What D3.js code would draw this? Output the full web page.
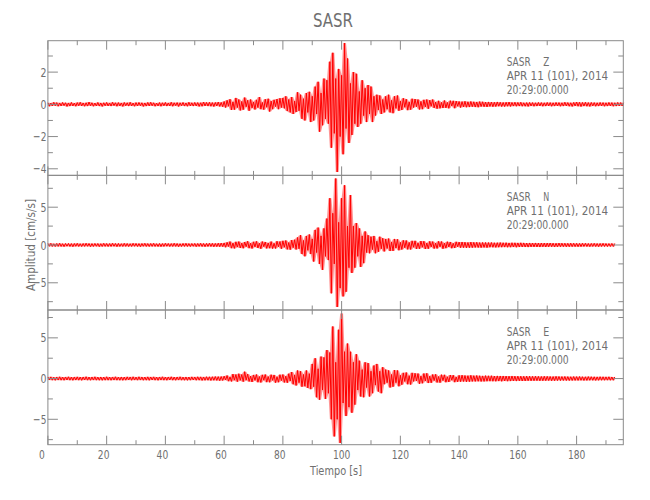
<!DOCTYPE html>
<html><head><meta charset="utf-8">
<script src="https://cdn.jsdelivr.net/npm/d3@7"></script>
<style>
body{margin:0;background:#fff}
text{font-family:"Liberation Sans Narrow","DejaVu Sans Condensed","Arial Narrow",sans-serif;fill:#707070}
</style>
</head><body>
<svg id="chart" width="650" height="500"></svg>
<script>
// ---------- data ----------
const title = "SASR";
const station = "SASR";
const components = ["Z", "N", "E"];
const dateLabel = "APR 11 (101), 2014";
const timeLabel = "20:29:00.000";
const xLabel = "Tiempo [s]";
const yLabel = "Amplitud [cm/s/s]";
const sampleStep = 0.5; // seconds between samples (alternating peaks)
const timeDomain = [0, 195.9];
const xMajorTicks = [0, 20, 40, 60, 80, 100, 120, 140, 160, 180];
const xMinorTicks = [10, 30, 50, 70, 90, 110, 130, 150, 170, 190];
const yDomains = [[-4.41, 3.95], [-8.6, 9.22], [-8.12, 8.42]];
const yMajorTicks = [[-4, -2, 0, 2], [-5, 0, 5], [-5, 0, 5]];
const yMinorTicks = [[-3, -1, 1, 3], [-7.5, -2.5, 2.5, 7.5], [-7.5, -2.5, 2.5, 7.5]];

const traceZ = [
0.1,-0.12,0.08,-0.1,0.13,-0.09,0.11,-0.12,0.09,-0.1,
0.12,-0.08,0.1,-0.13,0.09,-0.11,0.12,-0.1,0.08,-0.12,
0.11,-0.09,0.13,-0.1,0.09,-0.12,0.1,-0.11,0.14,-0.09,
0.1,-0.12,0.08,-0.1,0.12,-0.11,0.09,-0.13,0.1,-0.09,
0.12,-0.1,0.09,-0.11,0.13,-0.08,0.1,-0.12,0.11,-0.1,
0.09,-0.13,0.12,-0.09,0.1,-0.11,0.13,-0.1,0.08,-0.12,
0.11,-0.1,0.12,-0.09,0.1,-0.13,0.09,-0.11,0.12,-0.1,
0.13,-0.09,0.1,-0.12,0.08,-0.1,0.11,-0.12,0.1,-0.09,
0.12,-0.11,0.09,-0.1,0.13,-0.12,0.1,-0.08,0.11,-0.13,
0.1,-0.09,0.12,-0.11,0.09,-0.12,0.13,-0.1,0.1,-0.11,
0.12,-0.1,0.11,-0.13,0.1,-0.12,0.14,-0.1,0.12,-0.11,
0.13,-0.12,0.11,-0.14,0.12,-0.1,0.14,-0.13,0.12,-0.15,
0.18,-0.2,0.25,-0.12,0.32,-0.35,0.15,-0.33,0.4,-0.2,
0.3,-0.38,0.18,-0.33,0.42,-0.15,0.25,-0.4,0.3,-0.22,
0.15,-0.32,0.28,-0.2,0.45,-0.3,0.12,-0.33,0.32,-0.18,
0.35,-0.45,0.2,-0.3,0.28,-0.14,0.33,-0.3,0.38,-0.2,
0.4,-0.25,0.5,-0.42,0.3,-0.5,0.45,-0.6,0.2,-0.48,
0.75,-0.4,0.6,-0.9,0.35,-1.0,0.7,-0.5,0.78,-1.1,
0.5,-1.0,1.1,-0.6,1.4,-1.7,0.7,-1.3,1.6,-0.9,
1.5,-1.2,2.65,-2.7,3.2,-1.8,1.6,-4.2,2.2,-2.0,
1.8,-3.1,3.8,-1.5,2.85,-2.4,1.3,-1.9,2.0,-1.2,
1.9,-1.4,0.8,-1.2,1.5,-0.7,1.0,-1.1,1.2,-0.6,
1.1,-1.1,0.5,-0.7,0.6,-0.35,0.55,-0.6,0.3,-0.5,
0.5,-0.3,0.6,-0.5,0.25,-0.55,0.5,-0.25,0.55,-0.4,
0.2,-0.35,0.38,-0.18,0.32,-0.36,0.15,-0.33,0.35,-0.2,
0.33,-0.15,0.3,-0.32,0.18,-0.3,0.28,-0.16,0.3,-0.28,
0.26,-0.12,0.3,-0.22,0.14,-0.27,0.22,-0.25,0.12,-0.23,
0.24,-0.22,0.12,-0.25,0.23,-0.1,0.22,-0.24,0.2,-0.12,
0.18,-0.2,0.17,-0.16,0.19,-0.18,0.16,-0.17,0.18,-0.15,
0.16,-0.17,0.15,-0.18,0.17,-0.14,0.16,-0.15,0.14,-0.16,
0.15,-0.13,0.14,-0.15,0.13,-0.14,0.15,-0.12,0.13,-0.14,
0.12,-0.14,0.13,-0.12,0.14,-0.13,0.12,-0.11,0.13,-0.12,
0.12,-0.11,0.13,-0.12,0.1,-0.12,0.11,-0.13,0.12,-0.1,
0.11,-0.12,0.1,-0.11,0.12,-0.1,0.11,-0.12,0.1,-0.11,
0.12,-0.1,0.11,-0.12,0.1,-0.11,0.12,-0.1,0.11,-0.12,
0.1,-0.11,0.13,-0.1,0.11,-0.12,0.1,-0.13,0.12,-0.1,
0.14,-0.12,0.13,-0.14,0.12,-0.11,0.13,-0.12,0.11,-0.13,
0.12,-0.1,0.11,-0.12,0.1,-0.11,0.12,-0.1,0.11,-0.12,
0.1,-0.11,0.12,-0.1,0.11,-0.12,0.1,-0.11,0.12,-0.1,
0.11,-0.1,0.1
];

const traceN = [
0.2,-0.18,0.22,-0.2,0.17,-0.21,0.2,-0.19,0.23,-0.2,
0.18,-0.22,0.2,-0.17,0.21,-0.2,0.19,-0.23,0.2,-0.18,
0.22,-0.2,0.18,-0.21,0.2,-0.19,0.23,-0.18,0.2,-0.22,
0.19,-0.2,0.21,-0.18,0.2,-0.22,0.18,-0.2,0.22,-0.19,
0.2,-0.21,0.19,-0.2,0.23,-0.18,0.2,-0.22,0.21,-0.2,
0.18,-0.2,0.22,-0.19,0.2,-0.21,0.18,-0.2,0.22,-0.18,
0.21,-0.2,0.19,-0.22,0.2,-0.18,0.22,-0.2,0.19,-0.21,
0.2,-0.19,0.22,-0.2,0.18,-0.21,0.2,-0.22,0.19,-0.2,
0.22,-0.18,0.2,-0.21,0.19,-0.2,0.23,-0.19,0.2,-0.22,
0.18,-0.2,0.21,-0.19,0.22,-0.2,0.19,-0.21,0.2,-0.18,
0.21,-0.22,0.2,-0.19,0.22,-0.21,0.2,-0.23,0.21,-0.2,
0.23,-0.21,0.22,-0.24,0.21,-0.22,0.24,-0.23,0.25,-0.22,
0.28,-0.3,0.35,-0.2,0.45,-0.42,0.25,-0.45,0.42,-0.28,
0.45,-0.4,0.25,-0.44,0.4,-0.22,0.5,-0.42,0.24,-0.47,
0.42,-0.25,0.48,-0.4,0.24,-0.5,0.46,-0.22,0.4,-0.45,
0.27,-0.43,0.45,-0.48,0.22,-0.46,0.5,-0.24,0.46,-0.5,
0.55,-0.3,0.6,-0.58,0.32,-0.62,0.65,-0.35,0.7,-0.6,
1.0,-0.5,1.3,-1.2,0.6,-1.5,1.2,-0.7,1.4,-1.2,
0.8,-2.2,2.0,-1.0,2.3,-2.5,1.2,-3.3,2.2,-1.5,
3.5,-2.0,6.2,-6.4,4.2,-2.5,8.8,-8.2,3.0,-5.7,
6.2,-6.8,7.9,-6.2,2.5,-3.0,6.6,-3.7,2.5,-3.0,
2.9,-1.5,2.2,-2.9,1.2,-2.4,1.8,-1.0,1.3,-1.1,
1.1,-0.6,1.2,-1.1,0.5,-0.9,1.1,-0.5,0.9,-0.85,
0.8,-0.45,0.85,-0.8,0.4,-0.78,0.8,-0.4,0.75,-0.7,
0.35,-0.6,0.62,-0.36,0.6,-0.58,0.34,-0.6,0.55,-0.3,
0.55,-0.52,0.28,-0.5,0.52,-0.3,0.5,-0.53,0.26,-0.5,
0.48,-0.25,0.45,-0.48,0.25,-0.46,0.48,-0.24,0.46,-0.5,
0.25,-0.42,0.44,-0.26,0.4,-0.43,0.22,-0.4,0.42,-0.24,
0.38,-0.36,0.4,-0.35,0.37,-0.38,0.34,-0.36,0.38,-0.35,
0.35,-0.33,0.36,-0.34,0.32,-0.35,0.34,-0.32,0.33,-0.35,
0.32,-0.3,0.33,-0.31,0.3,-0.32,0.31,-0.3,0.32,-0.29,
0.3,-0.28,0.31,-0.3,0.28,-0.29,0.3,-0.27,0.29,-0.3,
0.28,-0.27,0.29,-0.26,0.28,-0.27,0.26,-0.28,0.27,-0.25,
0.26,-0.25,0.27,-0.26,0.25,-0.27,0.26,-0.24,0.25,-0.26,
0.25,-0.24,0.26,-0.23,0.24,-0.25,0.23,-0.24,0.25,-0.23,
0.24,-0.22,0.23,-0.24,0.22,-0.23,0.24,-0.22,0.23,-0.22,
0.22,-0.23,0.21,-0.22,0.23,-0.2,0.22,-0.21,0.2,-0.22,
0.21,-0.2,0.22,-0.21,0.2,-0.22,0.21,-0.2,0.22,-0.2,
0.2,-0.21,0.19,-0.2,0.21,-0.2,0.2
];

const traceE = [
0.2,-0.18,0.21,-0.2,0.17,-0.22,0.2,-0.19,0.22,-0.2,
0.19,-0.21,0.2,-0.18,0.22,-0.2,0.18,-0.22,0.2,-0.19,
0.21,-0.2,0.19,-0.22,0.2,-0.18,0.23,-0.2,0.19,-0.21,
0.2,-0.19,0.22,-0.2,0.18,-0.21,0.2,-0.22,0.19,-0.2,
0.22,-0.2,0.19,-0.21,0.2,-0.19,0.22,-0.2,0.18,-0.21,
0.2,-0.22,0.19,-0.2,0.21,-0.18,0.2,-0.21,0.22,-0.19,
0.18,-0.2,0.22,-0.19,0.2,-0.21,0.19,-0.2,0.21,-0.22,
0.2,-0.18,0.21,-0.2,0.19,-0.22,0.2,-0.19,0.22,-0.2,
0.19,-0.21,0.2,-0.18,0.22,-0.2,0.19,-0.21,0.2,-0.19,
0.22,-0.2,0.18,-0.21,0.2,-0.22,0.19,-0.2,0.21,-0.18,
0.2,-0.21,0.22,-0.2,0.21,-0.23,0.2,-0.22,0.23,-0.21,
0.22,-0.24,0.23,-0.22,0.25,-0.23,0.24,-0.26,0.25,-0.24,
0.3,-0.18,0.38,-0.32,0.2,-0.35,0.55,-0.2,0.5,-0.38,
0.6,-0.22,0.5,-0.38,0.85,-0.2,0.55,-0.36,0.3,-0.42,
0.45,-0.22,0.5,-0.45,0.25,-0.48,0.46,-0.2,0.5,-0.44,
0.24,-0.46,0.48,-0.22,0.45,-0.5,0.22,-0.45,0.48,-0.25,
0.5,-0.48,0.3,-0.52,0.6,-0.3,0.8,-0.7,0.45,-0.85,
1.0,-0.5,0.9,-1.0,0.5,-0.95,1.0,-1.15,0.6,-1.3,
1.8,-1.0,2.5,-2.3,1.2,-2.6,2.7,-1.4,2.6,-2.5,
3.5,-1.8,3.2,-5.0,6.4,-7.1,2.0,-5.0,6.0,-7.9,
8.0,-3.0,3.3,-4.6,4.3,-3.5,3.3,-4.2,2.0,-3.2,
3.0,-1.4,2.2,-2.2,1.1,-2.3,2.0,-1.1,1.9,-2.2,
0.9,-1.8,1.6,-0.8,1.8,-1.6,0.9,-1.8,1.4,-0.7,
1.1,-0.5,1.0,-1.1,0.5,-1.0,1.05,-0.5,1.0,-0.95,
0.4,-0.75,0.7,-0.35,0.75,-0.7,0.35,-0.74,0.7,-0.35,
0.65,-0.3,0.62,-0.64,0.3,-0.58,0.62,-0.3,0.65,-0.55,
0.3,-0.52,0.5,-0.25,0.52,-0.48,0.25,-0.5,0.48,-0.25,
0.46,-0.45,0.22,-0.42,0.44,-0.2,0.42,-0.44,0.2,-0.4,
0.4,-0.38,0.42,-0.36,0.38,-0.4,0.36,-0.38,0.4,-0.35,
0.36,-0.35,0.38,-0.34,0.35,-0.36,0.33,-0.35,0.36,-0.33,
0.34,-0.32,0.35,-0.33,0.31,-0.34,0.33,-0.31,0.32,-0.34,
0.32,-0.3,0.31,-0.32,0.3,-0.31,0.32,-0.29,0.3,-0.31,
0.3,-0.28,0.29,-0.3,0.28,-0.29,0.3,-0.27,0.29,-0.28,
0.28,-0.27,0.29,-0.26,0.27,-0.28,0.26,-0.27,0.28,-0.26,
0.27,-0.25,0.26,-0.27,0.25,-0.26,0.27,-0.25,0.26,-0.25,
0.25,-0.24,0.26,-0.25,0.24,-0.25,0.23,-0.24,0.25,-0.23,
0.24,-0.23,0.25,-0.22,0.23,-0.24,0.22,-0.23,0.24,-0.22,
0.23,-0.22,0.22,-0.23,0.21,-0.22,0.23,-0.21,0.22,-0.21,
0.21,-0.2,0.22,-0.21,0.2,-0.21,0.2
];

const traces = [traceZ, traceN, traceE];

// ---------- layout ----------
const svg = d3.select("#chart");
const left = 47.9, right = 623.3;
const panelTops = [40.7, 175.3, 310];
const panelH = 134.7;
const axisColor = "#8a8a8a";
const traceColor = "#ff0000";

const x = d3.scaleLinear().domain(timeDomain).range([left, right]);

function label(parent, px, py, str, size, anchor, len) {
  const t = parent.append("text").attr("x", px).attr("y", py)
    .attr("text-anchor", anchor).style("font-size", size + "px").text(str);
  if (len) t.attr("textLength", len).attr("lengthAdjust", "spacingAndGlyphs");
  return t;
}

label(svg, 333, 27, title, 20, "middle", 40);

traces.forEach((trace, p) => {
  const top = panelTops[p], bottom = top + panelH;
  const y = d3.scaleLinear().domain(yDomains[p]).range([bottom, top]);
  const g = svg.append("g");

  // envelope band between neighbouring peaks (dense oscillation fill)
  const hi = (i) => Math.max(trace[Math.max(i - 1, 0)], trace[i], trace[Math.min(i + 1, trace.length - 1)]);
  const lo = (i) => Math.min(trace[Math.max(i - 1, 0)], trace[i], trace[Math.min(i + 1, trace.length - 1)]);
  const area = d3.area().x((d, i) => x(i * sampleStep)).y0((d, i) => y(lo(i))).y1((d, i) => y(hi(i)));
  g.append("path").datum(trace).attr("d", area).attr("fill", traceColor).attr("fill-opacity", 0.42);

  // trace
  const line = d3.line().x((d, i) => x(i * sampleStep)).y(d => y(d));
  g.append("path").datum(trace).attr("d", line)
    .attr("fill", "none").attr("stroke", traceColor).attr("stroke-width", 1);

  // frame
  g.append("rect").attr("x", left).attr("y", top).attr("width", right - left).attr("height", panelH)
    .attr("fill", "none").attr("stroke", axisColor).attr("stroke-width", 1);

  // x ticks (top and bottom, inward)
  const xt = [...xMajorTicks.map(v => [v, 9]), ...xMinorTicks.map(v => [v, 4.5])];
  xt.forEach(([v, len]) => {
    g.append("line").attr("x1", x(v)).attr("x2", x(v)).attr("y1", top).attr("y2", top + len)
      .attr("stroke", axisColor);
    g.append("line").attr("x1", x(v)).attr("x2", x(v)).attr("y1", bottom).attr("y2", bottom - len)
      .attr("stroke", axisColor);
  });

  // y ticks (left and right, inward)
  const yt = [...yMajorTicks[p].map(v => [v, 10]), ...yMinorTicks[p].map(v => [v, 5])];
  yt.forEach(([v, len]) => {
    g.append("line").attr("x1", left).attr("x2", left + len).attr("y1", y(v)).attr("y2", y(v))
      .attr("stroke", axisColor);
    g.append("line").attr("x1", right).attr("x2", right - len).attr("y1", y(v)).attr("y2", y(v))
      .attr("stroke", axisColor);
  });
  yMajorTicks[p].forEach(v => {
    const s = v < 0 ? "\u2212" + Math.abs(v) : String(v);
    label(g, left - 1.5, y(v) + 4.6, s, 13, "end", v < 0 ? 13.3 : 6);
  });

  // annotation
  label(g, 506.7, top + 25.5, station, 13, "start", 24);
  label(g, 543.3, top + 25.5, components[p], 13, "start", 6);
  label(g, 506.7, top + 39.5, dateLabel, 13, "start", 101.5);
  label(g, 506.7, top + 53.5, timeLabel, 13, "start", 62);

  if (p === traces.length - 1) {
    xMajorTicks.forEach(v => {
      const s = String(v);
      label(g, x(v) - (3 - s.length) * 3, 458.5, s, 13, "middle", 5.8 * s.length);
    });
  }
});

label(svg, 336, 475, xLabel, 13, "middle", 52);

svg.append("text").attr("transform", "translate(35,245) rotate(-90)").attr("text-anchor", "middle")
  .style("font-size", "13px").attr("textLength", 92).attr("lengthAdjust", "spacingAndGlyphs")
  .text(yLabel);
</script>
</body></html>
